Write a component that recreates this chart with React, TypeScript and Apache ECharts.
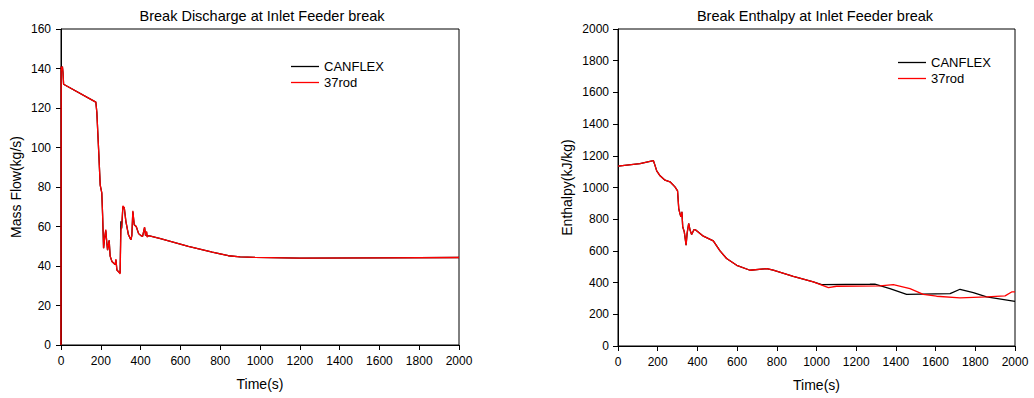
import React, { useEffect, useRef } from "react";
import * as echarts from "echarts";

// ---- Data: Break discharge (left) ----
const flowTime = [0, 1, 4, 7, 10, 13, 175, 180, 189, 197, 205, 209, 214, 219, 225, 230, 234, 242, 247, 256, 272, 276, 281, 290, 297, 301, 305, 311, 318, 326, 339, 351, 356, 361, 368, 378, 390, 400, 410, 420, 425, 430, 433, 440, 500, 640, 760, 841, 900, 975, 1200, 1600, 2000];
const flowCanflex = [0, 141, 139, 141, 138, 132, 123, 118, 99, 81, 77, 66, 49, 54, 58, 52, 48, 53, 45, 42.3, 40.7, 43, 38, 37, 36.5, 62.6, 59, 70, 69.5, 62.6, 55.8, 53.3, 55.4, 67.5, 60.9, 60, 56.4, 55.5, 55, 59.5, 55.4, 57.2, 54.8, 55.4, 53.8, 49.9, 47, 45.2, 44.6, 44.4, 44, 44.1, 44.3];
const flowRod = [0, 141, 139, 141, 138, 132, 123, 118, 99, 81, 77, 66, 49, 54, 58.5, 52, 48, 53, 45, 42.3, 40.7, 43.5, 38, 37, 36, 58, 60, 70.5, 69.5, 62.6, 55.8, 53.3, 55.4, 68, 60.9, 60, 56.4, 55.5, 55, 59.7, 55.4, 57.5, 54.6, 55.4, 53.8, 49.9, 47, 45.2, 44.6, 44.4, 44, 44.1, 44.3];

// ---- Data: Break enthalpy (right) ----
const enthalpyTimeCommon = [0, 111, 178, 186, 195, 212, 237, 262, 287, 300, 306, 312, 317, 322, 326, 334, 343, 348, 356, 363, 371, 383, 393, 430, 480, 514, 547, 598, 665, 749, 782, 883, 984];
const enthalpyCommon = [1135, 1151, 1170, 1141, 1105, 1074, 1046, 1036, 1004, 979, 867, 836, 815, 846, 752, 720, 636, 709, 773, 731, 703, 735, 731, 693, 663, 600, 552, 509, 478, 488, 478, 440, 404];
const enthalpyCanflexTailTime = [1026, 1269, 1294, 1370, 1454, 1673, 1723, 1790, 1857, 2000];
const enthalpyCanflexTail = [387.6, 389.6, 390, 362, 326, 331, 358, 337, 310, 282];
const enthalpyRodTailTime = [1060, 1101, 1320, 1387, 1471, 1538, 1605, 1723, 1857, 1950, 1983, 2000];
const enthalpyRodTail = [368.6, 377, 379, 387.6, 362, 326, 314, 303, 310, 316, 341, 341];

const xTicks = { min: 0, max: 2000, interval: 200 };
const seriesNames = ["CANFLEX", "37rod"];

const zip = (t: number[], v: number[]) => t.map((x, i) => [x, v[i]]);

const FONT = "'Liberation Sans', Arial, sans-serif";
const LINE_ICON = "path://M0 0H28V1.3H0Z";

function axisCommon(margin: number) {
  return {
    axisLine: { show: true, lineStyle: { color: "#000", width: 1 } },
    axisTick: { show: true, inside: false, length: 5, lineStyle: { color: "#000" } },
    splitLine: { show: false },
    axisLabel: {
      color: "#000",
      fontSize: 12,
      fontFamily: FONT,
      margin,
      formatter: (v: number) => String(v),
    },
    nameTextStyle: { color: "#000", fontSize: 14, fontFamily: FONT },
  };
}

const legendBase = {
  orient: "vertical" as const,
  itemWidth: 28,
  itemHeight: 14,
  itemGap: 3,
  icon: LINE_ICON,
  textStyle: { color: "#000", fontSize: 13, fontFamily: FONT },
};

const titleStyle = { color: "#000", fontSize: 14.5, fontWeight: "normal" as const, fontFamily: FONT };

export default function App() {
  const ref = useRef<HTMLDivElement>(null);
  useEffect(() => {
    if (!ref.current) return;
    const chart = echarts.init(ref.current, undefined, { renderer: "svg" });
    const lineBase = (color: string) => ({
      type: "line" as const,
      symbol: "none",
      showSymbol: false,
      lineStyle: { color, width: 1.3 },
      itemStyle: { color },
    });
    chart.setOption({
      animation: false,
      textStyle: { fontFamily: FONT },
      title: [
        { text: "Break Discharge at Inlet Feeder break", left: 257, top: 3, textAlign: "center", textStyle: titleStyle },
        { text: "Break Enthalpy at Inlet Feeder break", left: 810, top: 3, textAlign: "center", textStyle: titleStyle },
      ],
      legend: [
        { ...legendBase, data: seriesNames.slice(), left: 286, top: 55 },
        { ...legendBase, data: seriesNames.map((n) => n + " "), formatter: (n: string) => n.trim(), left: 893, top: 51 },
      ],
      grid: [
        { left: 61, top: 29, width: 398, height: 316, show: true, borderColor: "#000", borderWidth: 1 },
        { left: 618, top: 29, width: 397, height: 317, show: true, borderColor: "#000", borderWidth: 1 },
      ],
      xAxis: [
        { ...axisCommon(10), gridIndex: 0, type: "value", ...xTicks, name: "Time(s)", nameLocation: "middle", nameGap: 32 },
        { ...axisCommon(10), gridIndex: 1, type: "value", ...xTicks, name: "Time(s)", nameLocation: "middle", nameGap: 32 },
      ],
      yAxis: [
        {
          ...axisCommon(10),
          gridIndex: 0,
          type: "value",
          min: 0,
          max: 160,
          interval: 20,
          name: "Mass Flow(kg/s)",
          nameLocation: "middle",
          nameGap: 38,
        },
        {
          ...axisCommon(9),
          gridIndex: 1,
          type: "value",
          min: 0,
          max: 2000,
          interval: 200,
          name: "Enthalpy(kJ/kg)",
          nameLocation: "middle",
          nameGap: 44,
        },
      ],
      series: [
        { ...lineBase("#000000"), name: seriesNames[0], xAxisIndex: 0, yAxisIndex: 0, data: zip(flowTime, flowCanflex) },
        { ...lineBase("#ff0000"), name: seriesNames[1], xAxisIndex: 0, yAxisIndex: 0, data: zip(flowTime, flowRod) },
        {
          ...lineBase("#000000"),
          name: seriesNames[0] + " ",
          xAxisIndex: 1,
          yAxisIndex: 1,
          data: zip(enthalpyTimeCommon.concat(enthalpyCanflexTailTime), enthalpyCommon.concat(enthalpyCanflexTail)),
        },
        {
          ...lineBase("#ff0000"),
          name: seriesNames[1] + " ",
          xAxisIndex: 1,
          yAxisIndex: 1,
          data: zip(enthalpyTimeCommon.concat(enthalpyRodTailTime), enthalpyCommon.concat(enthalpyRodTail)),
        },
      ],
    });
    return () => chart.dispose();
  }, []);
  return <div ref={ref} style={{ position: "fixed", left: 0, top: 0, width: 1034, height: 398, background: "#fff" }} />;
}
